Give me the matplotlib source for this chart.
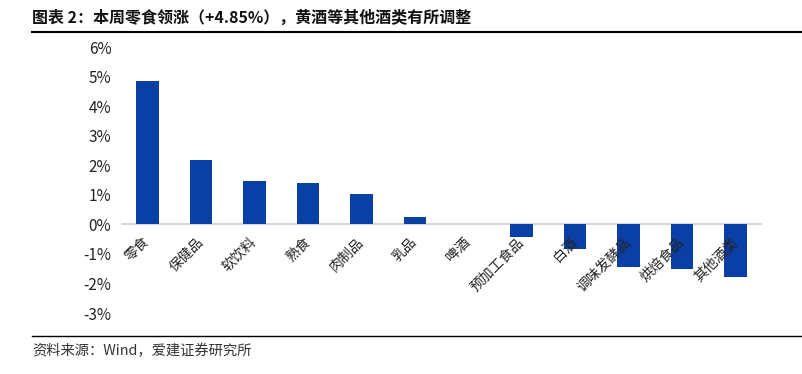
import matplotlib
matplotlib.use("Agg")
import matplotlib.pyplot as plt
from matplotlib.lines import Line2D
from matplotlib.ticker import FuncFormatter

plt.rcParams['font.family'] = ['Noto Sans CJK SC', 'DejaVu Sans']

categories = ['零食', '保健品', '软饮料', '熟食', '肉制品', '乳品', '啤酒',
              '预加工食品', '白酒', '调味发酵品', '烘焙食品', '其他酒类']
values = [4.85, 2.18, 1.47, 1.40, 1.01, 0.25, 0.0,
          -0.42, -0.85, -1.46, -1.51, -1.78]
yticks = [-3, -2, -1, 0, 1, 2, 3, 4, 5, 6]

W, H = 802, 374
fig = plt.figure(figsize=(W / 100, H / 100), dpi=100)
ax = fig.add_axes([121 / W, 1 - 313 / H, (762 - 121) / W, (313 - 47) / H])

x = list(range(len(categories)))
ax.bar(x, values, width=0.42, color='#0A3FA6', zorder=3)
ax.set_xlim(-0.5, len(categories) - 0.5)
ax.set_ylim(-3, 6)
ax.set_yticks(yticks)
ax.yaxis.set_major_formatter(FuncFormatter(lambda v, p: f'{int(round(v))}%'))
ax.tick_params(axis='y', length=0, labelsize=11, colors='#222222', pad=7)
ax.axhline(0, color='#d0d0d0', lw=1.2, zorder=2)
for s in ax.spines.values():
    s.set_visible(False)
ax.set_xticks([])

# category labels placed just below the zero line, rotated 45 degrees
for i, c in enumerate(categories):
    ax.text(i - 0.09, -0.36, c, rotation=45, ha='right', va='top',
            rotation_mode='anchor', fontsize=10, color='#222222')

fig.text(32 / W, 1 - 18 / H, '图表 2：本周零食领涨（+4.85%），黄酒等其他酒类有所调整',
         fontsize=11.5, fontweight='bold', va='center', ha='left', color='#111111')
fig.add_artist(Line2D([32 / W, 1], [1 - 32 / H, 1 - 32 / H], transform=fig.transFigure,
                      color='black', lw=1.5))
fig.add_artist(Line2D([32 / W, 1], [1 - 336 / H, 1 - 336 / H], transform=fig.transFigure,
                      color='black', lw=1.0))
fig.text(32 / W, 1 - 351 / H, '资料来源：Wind，爱建证券研究所', fontsize=10.3,
         va='center', ha='left', color='#333333')

fig.savefig('out.png', dpi=100)
